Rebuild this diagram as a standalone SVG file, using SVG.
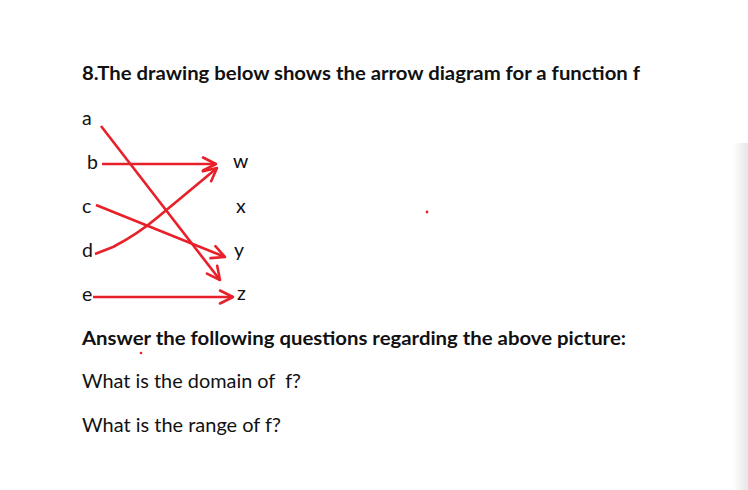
<svg xmlns="http://www.w3.org/2000/svg" width="748" height="490" viewBox="0 0 748 490">
  <style>
    .t { font-family: Lato, "Open Sans", "Liberation Sans", sans-serif; fill: #111; }
    .b { font-weight: bold; font-size: 19px; }
    .r { font-size: 19.5px; }
    .lbl { font-family: Lato, "Open Sans", "Liberation Sans", sans-serif; font-size: 19.5px; fill: #111; }
    .arr { fill: none; stroke: #E8202A; stroke-width: 2.6; stroke-linecap: butt; stroke-linejoin: round; marker-end: url(#ah); }
  </style>
  <defs>
    <marker id="ah" markerUnits="userSpaceOnUse" markerWidth="24" markerHeight="24" viewBox="-16 -12 24 24" refX="0" refY="0" orient="auto" overflow="visible">
      <path d="M-13,-6.5 L0,0 L-13,6.5" fill="none" stroke="#E8202A" stroke-width="2.6" stroke-linejoin="round" stroke-linecap="round"/>
    </marker>
    <linearGradient id="shadow" x1="0" y1="0" x2="1" y2="0">
      <stop offset="0" stop-color="#ffffff"/>
      <stop offset="1" stop-color="#e6e6e6"/>
    </linearGradient>
  </defs>
  <rect width="748" height="490" fill="#ffffff"/>
  <rect x="733" y="143" width="15" height="347" fill="url(#shadow)"/>

  <text class="t b" x="82" y="80" textLength="558" lengthAdjust="spacingAndGlyphs">8.The drawing below shows the arrow diagram for a function f</text>

  <g id="domain">
    <g id="node-a"><text class="lbl" x="82" y="125">a</text></g>
    <g id="node-b"><text class="lbl" x="87" y="169">b</text></g>
    <g id="node-c"><text class="lbl" x="82" y="213">c</text></g>
    <g id="node-d"><text class="lbl" x="82" y="257">d</text></g>
    <g id="node-e"><text class="lbl" x="82" y="301">e</text></g>
  </g>
  <g id="codomain">
    <g id="node-w"><text class="lbl" x="233" y="168">w</text></g>
    <g id="node-x"><text class="lbl" x="236" y="213">x</text></g>
    <g id="node-y"><text class="lbl" x="234" y="257">y</text></g>
    <g id="node-z"><text class="lbl" x="237" y="300">z</text></g>
  </g>

  <g id="connectors">
    <path class="arr" d="M101,126 L220,280"/>
    <path class="arr" d="M102,164 L216,164"/>
    <path class="arr" d="M96,205 L225,257"/>
    <path class="arr" d="M95,254 L113,247 Q138,234 158,217 L217,168"/>
    <path class="arr" d="M93,297 L233,297"/>
  </g>

  <circle cx="427" cy="212" r="1.4" fill="#E8202A"/>
  <circle cx="141" cy="353" r="1.3" fill="#E8202A"/>

  <text class="t b" x="82" y="345" textLength="544" lengthAdjust="spacingAndGlyphs">Answer the following questions regarding the above picture:</text>
  <text class="t r" x="82" y="388" textLength="219" lengthAdjust="spacingAndGlyphs" xml:space="preserve">What is the domain of  f?</text>
  <text class="t r" x="82" y="432" textLength="199" lengthAdjust="spacingAndGlyphs">What is the range of f?</text>
</svg>
